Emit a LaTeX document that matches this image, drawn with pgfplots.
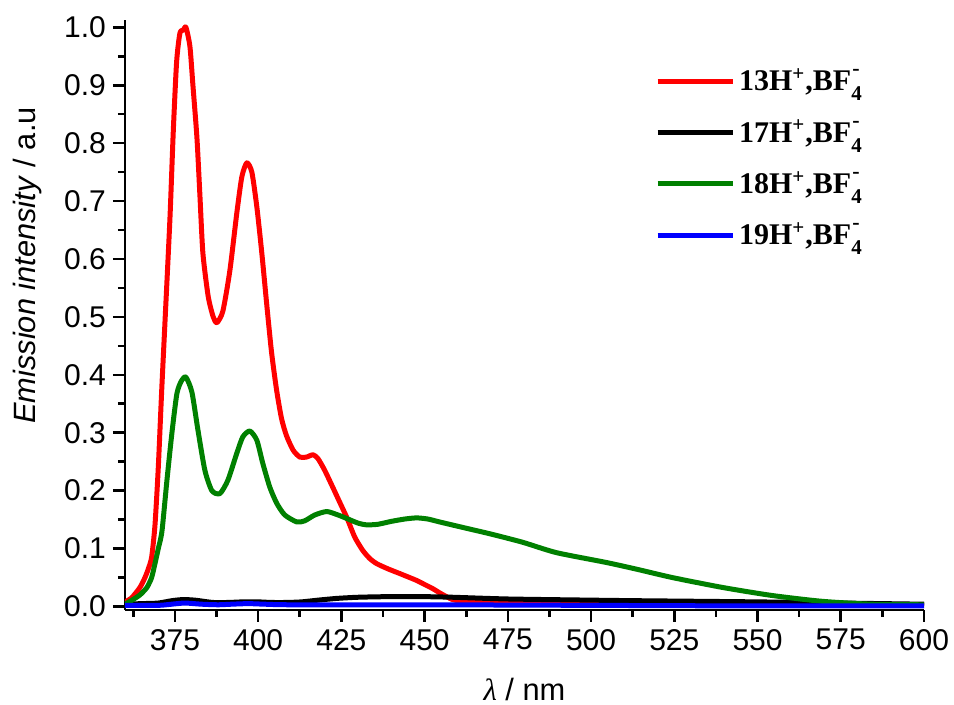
\documentclass[border=0pt]{standalone}
\usepackage{fontspec}
\setmainfont{Liberation Sans}
\newfontfamily\legfont{Liberation Serif}
\usepackage{pgfplots}
\pgfplotsset{compat=1.18}
\definecolor{cred}{RGB}{255,0,0}
\definecolor{cgreen}{RGB}{0,128,0}
\definecolor{cblue}{RGB}{0,0,255}
\newcommand{\lent}[1]{#1H\textsuperscript{+},BF\rlap{\smash{\hspace{0.5pt}\raisebox{7.5pt}{\fontsize{11}{11}\selectfont -}}}\smash{\raisebox{-5pt}{\fontsize{10.5}{11}\selectfont 4}}}
\begin{document}
\begin{tikzpicture}
\begin{axis}[
  name=ax,
  scale only axis, width=399.5pt, height=295pt,
  xmin=360, xmax=600, ymin=-0.006, ymax=1.0126,
  axis x line*=bottom, axis y line*=left,
  axis line style={line width=1.4pt, -},
  tick align=outside,
  xtick={375,400,425,450,475,500,525,550,575,600},
  minor xtick={362.5,387.5,412.5,437.5,462.5,487.5,512.5,537.5,562.5,587.5},
  ytick={0,0.1,0.2,0.3,0.4,0.5,0.6,0.7,0.8,0.9,1.0},
  minor ytick={0.05,0.15,0.25,0.35,0.45,0.55,0.65,0.75,0.85,0.95},
  major tick length=6pt, minor tick length=3.5pt,
  every tick/.style={line width=1.3pt, black},
  yticklabel style={/pgf/number format/.cd, fixed, fixed zerofill, precision=1},
  /pgf/number format/assume math mode=true,
  tick label style={font=\fontsize{15}{18}\selectfont},
  xlabel={{\legfont\itshape λ} / nm},
  ylabel={\textit{Emission intensity} / a.u},
  label style={font=\fontsize{15.4}{18}\selectfont},
  ylabel style={at={(axis description cs:-0.1126,0.584)}, anchor=base},
  xlabel style={at={(axis description cs:0.5,-0.1542)}, anchor=base},
  legend style={draw=none, fill=none, at={(axis description cs:0.663,0.925)}, anchor=north west,
    font=\legfont\bfseries\fontsize{15}{18}\selectfont, row sep=9pt, inner sep=0pt},
  legend cell align=left,
  legend image code/.code={\draw[#1, line width=2.5pt] (0pt,0pt) -- (37.5pt,0pt);},
  every axis plot/.append style={line width=2.5pt, line join=round, smooth, tension=0.4},
]
\addplot[cred] coordinates {
(360,0.008)(362,0.015)(364.5,0.033)(366,0.05)(367,0.065)(368,0.085)(369,0.14)(370,0.24)(371,0.37)(372,0.49)
(373.5,0.67)(374.5,0.82)(375.5,0.94)(376.5,0.99)(377.5,0.995)(378.3,1.0)(379.5,0.967)(380.4,0.90)
(381.6,0.81)(382.5,0.71)(383.4,0.61)(385,0.535)(386.5,0.50)(387.6,0.49)(389.4,0.51)(391.5,0.58)
(393.6,0.68)(395.1,0.742)(396.6,0.766)(398.1,0.75)(399.6,0.69)(401.1,0.61)(402.6,0.52)(404,0.44)
(405.5,0.375)(407,0.325)(408.5,0.295)(410.5,0.27)(412.5,0.258)(414.5,0.258)(416.5,0.262)(418,0.255)(420,0.235)
(422.4,0.206)(424.5,0.18)(426.6,0.154)(429,0.12)(431.4,0.097)(433.5,0.083)(435.6,0.074)(439,0.065)
(442.5,0.057)(447.6,0.045)(450,0.038)(452.4,0.031)(455,0.022)(458.4,0.012)(462,0.009)(470,0.008)
(500,0.006)(550,0.004)(600,0.003)
};
\addlegendentry{\lent{13}}
\addplot[black] coordinates {
(360,0.004)(365,0.005)(370,0.006)(374,0.01)(377.4,0.012)(381,0.011)(386.4,0.007)(391,0.007)
(395.4,0.008)(400,0.008)(404,0.007)(408.6,0.007)(413,0.008)(418,0.011)(423.6,0.014)(430,0.016)
(438.6,0.017)(450,0.017)(458.4,0.016)(475,0.013)(500,0.011)(514.5,0.010)(550,0.008)(575,0.006)(600,0.004)
};
\addlegendentry{\lent{17}}
\addplot[cgreen] coordinates {
(360,0.004)(362.4,0.012)(364.5,0.02)(366.6,0.033)(368,0.05)(369,0.074)(370,0.10)(371.1,0.13)
(372.6,0.218)(374.1,0.30)(375.6,0.368)(377,0.39)(378.3,0.396)(380.1,0.37)(381.9,0.305)(384,0.235)
(386.1,0.20)(388.5,0.195)(390.9,0.218)(393.6,0.265)(395.4,0.293)(397.5,0.303)(399.6,0.287)
(401.4,0.247)(403.5,0.206)(405.6,0.178)(408,0.158)(411.6,0.146)(414,0.148)(417,0.158)(420.6,0.164)
(424,0.158)(426.6,0.152)(430,0.144)(432.6,0.141)(436,0.142)(440,0.147)(444,0.151)(447.6,0.153)
(451,0.151)(454.5,0.146)(462.6,0.135)(470,0.125)(479.4,0.111)(489.6,0.093)(504.6,0.076)(514,0.064)
(524.4,0.050)(539.4,0.033)(554.4,0.019)(569.4,0.009)(584.4,0.004)(600,0.003)
};
\addlegendentry{\lent{18}}
\addplot[cblue] coordinates {
(360,0.002)(370,0.002)(374,0.004)(378,0.006)(383,0.004)(388,0.003)(392,0.004)(397,0.005)
(402,0.004)(410,0.003)(450,0.003)(500,0.002)(550,0.001)(600,0.001)
};
\addlegendentry{\lent{19}}
\end{axis}
\pgfresetboundingbox
\path[use as bounding box] ([shift={(-62.5pt,-47.5pt)}]ax.south west) rectangle ([shift={(15pt,10pt)}]ax.north east);
\end{tikzpicture}
\end{document}
